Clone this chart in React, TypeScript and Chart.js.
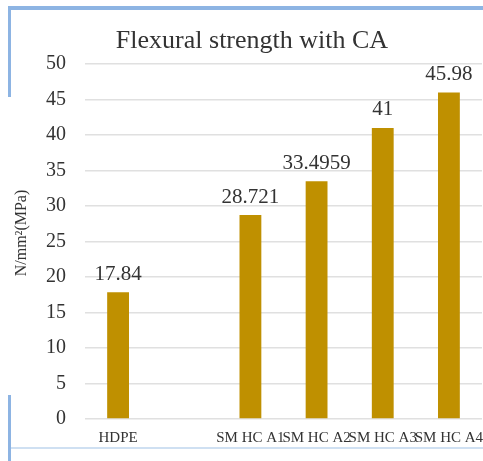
import React, { useEffect, useRef } from "react";
import { Chart, registerables } from "chart.js";

Chart.register(...registerables);

const categories: string[] = ["HDPE", "", "SM HC A1", "SM HC A2", "SM HC A3", "SM HC A4"];
const values: (number | null)[] = [17.84, null, 28.721, 33.4959, 41, 45.98];
const valueLabels: string[] = ["17.84", "", "28.721", "33.4959", "41", "45.98"];
const yMin = 0;
const yMax = 50;
const yStep = 5;
const titleText = "Flexural strength with CA";
const yAxisTitle = "N/mm²(MPa)";

const SERIF = "'Liberation Serif', 'Times New Roman', serif";
const TEXT = "#333333";
const BAR = "#BF9000";

const decorPlugin = {
  id: "decor",
  beforeDraw(chart: any) {
    const ctx = chart.ctx;
    ctx.save();
    ctx.fillStyle = "#ffffff";
    ctx.fillRect(0, 0, chart.width, chart.height);
    // frame
    ctx.fillStyle = "#8db4e3";
    ctx.fillRect(8, 6, chart.width - 8, 4);
    ctx.fillRect(8, 6, 3, 91);
    ctx.fillRect(8, 395, 3, chart.height - 395);
    ctx.fillStyle = "#cfe0f2";
    ctx.fillRect(11, 447, chart.width - 11, 2);
    ctx.restore();
  },
  afterDatasetsDraw(chart: any) {
    const ctx = chart.ctx;
    ctx.save();
    // title
    ctx.fillStyle = TEXT;
    ctx.font = `26px ${SERIF}`;
    ctx.textAlign = "center";
    ctx.textBaseline = "middle";
    ctx.fillText(titleText, 252, 41);
    // y axis title
    ctx.save();
    ctx.translate(22, 233);
    ctx.rotate(-Math.PI / 2);
    ctx.font = `16px ${SERIF}`;
    ctx.fillText(yAxisTitle, 0, 0);
    ctx.restore();
    // value labels
    const meta = chart.getDatasetMeta(0);
    ctx.font = `21px ${SERIF}`;
    meta.data.forEach((el: any, i: number) => {
      const v = values[i];
      if (v === null || v === undefined) return;
      ctx.fillText(valueLabels[i], el.x, el.y - 18);
    });
    ctx.restore();
  },
};

export default function App() {
  const ref = useRef<HTMLCanvasElement | null>(null);

  useEffect(() => {
    if (!ref.current) return;
    const chart = new Chart(ref.current, {
      type: "bar",
      data: {
        labels: categories,
        datasets: [
          {
            data: values as any,
            backgroundColor: BAR,
            barPercentage: 0.33,
            categoryPercentage: 1,
          },
        ],
      },
      options: {
        responsive: false,
        animation: false,
        devicePixelRatio: 1,
        layout: { padding: { left: 10, right: 1, top: 64, bottom: 0 } },
        plugins: {
          legend: { display: false },
          title: { display: false },
          tooltip: { enabled: false },
        },
        scales: {
          x: {
            grid: { display: false, drawTicks: false },
            border: { display: false },
            ticks: {
              autoSkip: false,
              maxRotation: 0,
              minRotation: 0,
              padding: 10,
              color: TEXT,
              font: { family: SERIF, size: 15 },
            },
            afterFit: (s: any) => {
              s.height = 42;
              s.paddingLeft = 0;
              s.paddingRight = 0;
            },
          },
          y: {
            min: yMin,
            max: yMax,
            grid: { color: "#e0e0e0", lineWidth: 1.5, drawTicks: false },
            border: { display: false },
            ticks: {
              stepSize: yStep,
              padding: 19,
              color: TEXT,
              font: { family: SERIF, size: 20 },
            },
            afterFit: (s: any) => {
              s.width = 75;
              s.paddingTop = 0;
              s.paddingBottom = 0;
            },
          },
        },
      },
      plugins: [decorPlugin],
    });
    return () => chart.destroy();
  }, []);

  return (
    <div style={{ position: "fixed", left: 0, top: 0, width: 483, height: 461, background: "#fff" }}>
      <canvas ref={ref} width={483} height={461} style={{ display: "block", width: 483, height: 461 }} />
    </div>
  );
}
